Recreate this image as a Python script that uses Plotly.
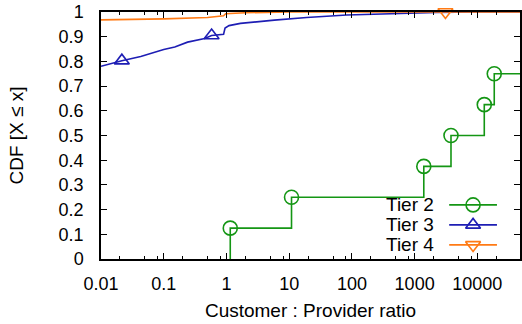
import plotly.graph_objects as go

# ---- data ----
tier2_x = [1.15, 1.15, 10.9, 1400, 3800, 12900, 18600, 48000]
tier2_y = [0.0, 0.125, 0.25, 0.375, 0.5, 0.625, 0.75, 0.75]
tier2_mark = [False, True, True, True, True, True, True, False]

tier3_x = [0.01, 0.0215, 0.043, 0.07, 0.1, 0.15, 0.24, 0.45, 0.58, 0.9, 0.95, 1.1, 1.67, 5.8, 19, 83, 520, 2200, 10000, 48000]
tier3_y = [0.78, 0.803, 0.82, 0.838, 0.848, 0.858, 0.878, 0.893, 0.905, 0.91, 0.935, 0.945, 0.954, 0.967, 0.978, 0.988, 0.995, 0.998, 1.0, 1.0]
tier3_mark = [False, True, False, False, False, False, False, False, True, False, False, False, False, False, False, False, False, False, False, False]

tier4_x = [0.01, 0.1, 0.5, 0.9, 0.97, 2, 10, 3100, 48000]
tier4_y = [0.968, 0.972, 0.978, 0.985, 0.993, 0.997, 1.0, 1.0, 1.0]
tier4_mark = [False, False, False, False, False, False, False, True, False]

x_tickvals = [0.01, 0.1, 1, 10, 100, 1000, 10000]
x_ticktext = ["0.01", "0.1", "1", "10", "100", "1000", "10000"]
y_tickvals = [i / 10 for i in range(11)]
y_ticktext = ["0"] + ["0.%d" % i for i in range(1, 10)] + ["1"]

series = [
    ("Tier 2", tier2_x, tier2_y, tier2_mark, "#149614", "circle-open", 14),
    ("Tier 3", tier3_x, tier3_y, tier3_mark, "#1e1eb4", "triangle-up-open", 13),
    ("Tier 4", tier4_x, tier4_y, tier4_mark, "#ff7a14", "triangle-down-open", 13),
]

FONT = "Liberation Sans, Arial, Helvetica, sans-serif"
LW = 1.6

fig = go.Figure()
for name, xs, ys, mk, col, sym, sz in series:
    fig.add_trace(go.Scatter(
        x=xs, y=ys, mode="lines", name=name, showlegend=False,
        line=dict(color=col, width=LW, shape="hv" if name == "Tier 2" else "linear"),
        hoverinfo="skip"))
    mx = [x for x, m in zip(xs, mk) if m]
    my = [y for y, m in zip(ys, mk) if m]
    fig.add_trace(go.Scatter(
        x=mx, y=my, mode="markers", showlegend=False, cliponaxis=False,
        marker=dict(symbol=sym, size=sz, color=col, line=dict(color=col, width=LW))))

# ---- gnuplot-style key (text left, sample right), on an overlay axis ----
key_text_x = 0.80
key_line = [0.831, 0.945]
key_rows = [0.219, 0.138, 0.057]
for (name, xs, ys, mk, col, sym, sz), ry in zip(series, key_rows):
    fig.add_trace(go.Scatter(
        x=key_line, y=[ry, ry], xaxis="x2", yaxis="y2", mode="lines",
        showlegend=False, line=dict(color=col, width=LW), hoverinfo="skip"))
    fig.add_trace(go.Scatter(
        x=[sum(key_line) / 2], y=[ry], xaxis="x2", yaxis="y2", mode="markers",
        showlegend=False, marker=dict(symbol=sym, size=sz, color=col, line=dict(color=col, width=LW)),
        hoverinfo="skip"))
    fig.add_annotation(x=key_text_x, y=ry, xref="x2", yref="y2", text=name,
                       showarrow=False, xanchor="right", yanchor="middle",
                       font=dict(size=19, color="black", family=FONT))

minor_vals = []
for d in [0.01, 0.1, 1, 10, 100, 1000, 10000]:
    for m in (2, 5, 8):
        minor_vals.append(d * m)

fig.update_layout(
    width=522, height=324,
    margin=dict(l=101, r=0, t=12, b=65),
    paper_bgcolor="white", plot_bgcolor="white",
    font=dict(family=FONT, size=18, color="black"),
    xaxis=dict(
        type="log", range=[-2, 4.68],
        tickvals=x_tickvals, ticktext=x_ticktext,
        ticks="inside", ticklen=6, tickwidth=1, tickcolor="black",
        minor=dict(tickvals=minor_vals, ticks="inside", ticklen=3, tickcolor="black", showgrid=False),
        showline=True, linecolor="black", linewidth=1.5, mirror="allticks",
        showgrid=False, zeroline=False, ticklabelstandoff=8,
        title=dict(text="Customer : Provider ratio", font=dict(size=19), standoff=10),
    ),
    yaxis=dict(
        range=[0, 1], tickvals=y_tickvals, ticktext=y_ticktext,
        ticks="inside", ticklen=6, tickwidth=1, tickcolor="black",
        showline=True, linecolor="black", linewidth=1.5, mirror="allticks",
        showgrid=False, zeroline=False, ticklabelstandoff=12,
        title=dict(text="CDF [X ≤ x]", font=dict(size=19), standoff=30),
    ),
    xaxis2=dict(range=[0, 1], overlaying="x", visible=False, fixedrange=True),
    yaxis2=dict(range=[0, 1], overlaying="y", visible=False, fixedrange=True),
    showlegend=False,
)

fig.write_html("out.html")
